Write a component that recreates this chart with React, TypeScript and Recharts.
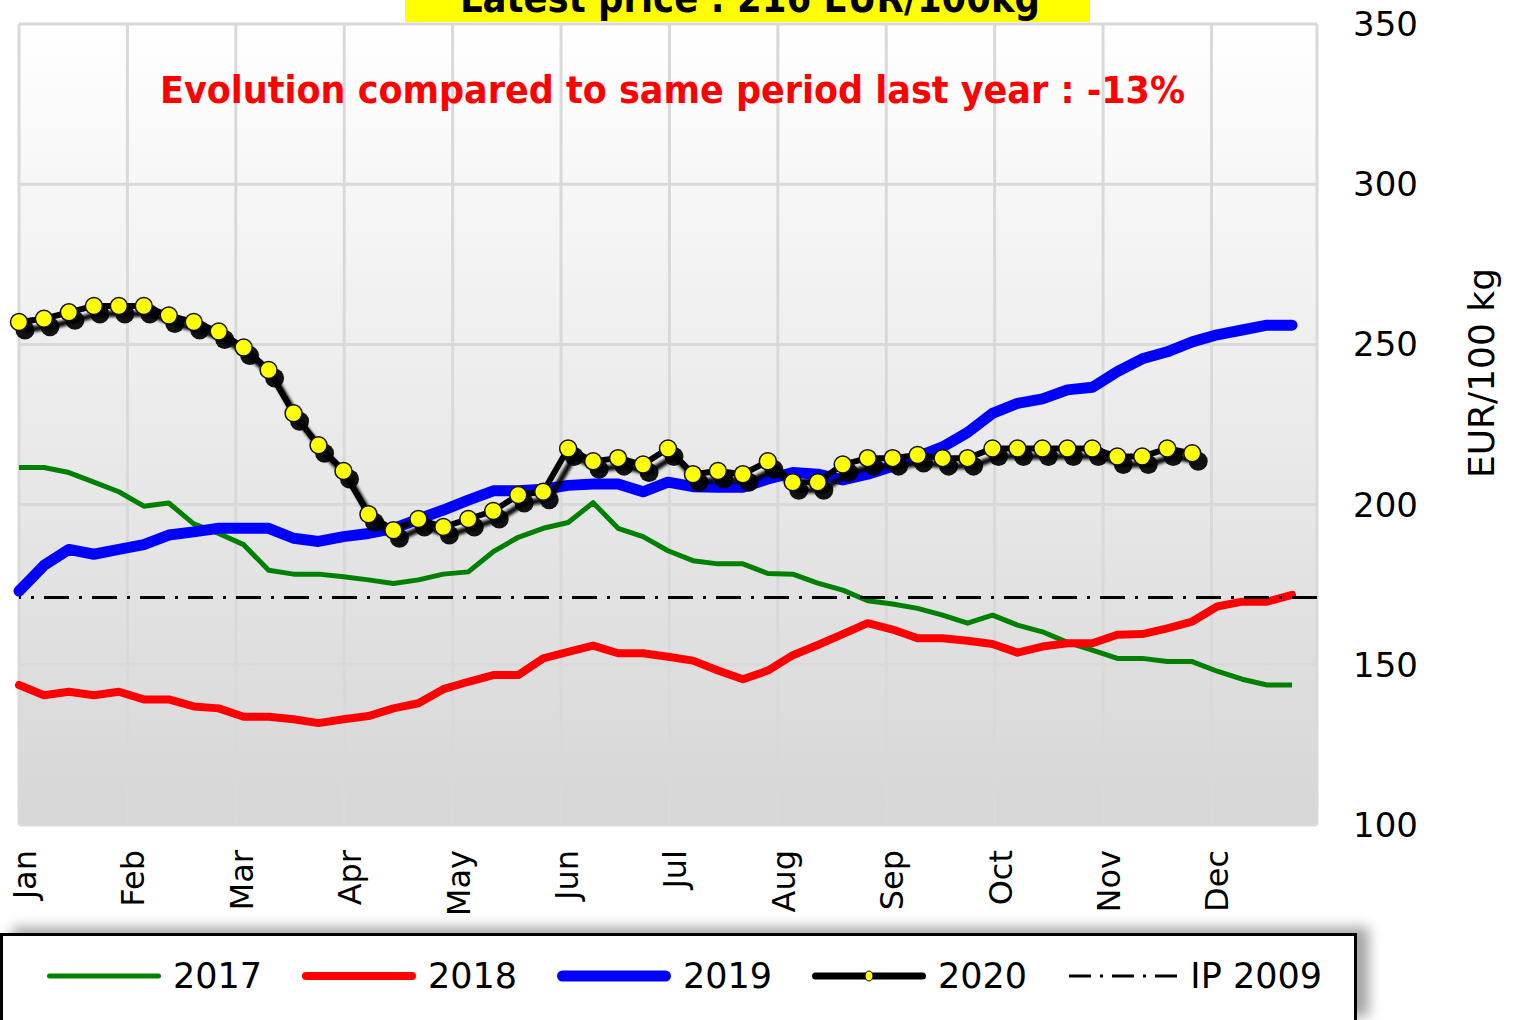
import { LineChart, Line, XAxis, YAxis, CartesianGrid, ReferenceLine } from 'recharts';

const MONTHS = ['Jan', 'Feb', 'Mar', 'Apr', 'May', 'Jun', 'Jul', 'Aug', 'Sep', 'Oct', 'Nov', 'Dec'];
const WEEKS_PER_MONTH = 4.343;
const Y_TICKS = [100, 150, 200, 250, 300, 350];

// weekly prices, EUR/100 kg
const PRICES_2017 = [
    211.6, 211.6, 210, 207, 204, 199.5, 200.5, 194, 191, 187.5, 179.5, 178.3, 178.3, 177.5, 176.5, 175.4, 176.5, 178.3,
    179, 185.3, 189.8, 192.6, 194.4, 200.6, 192.6, 190, 185.6, 182.5, 181.5, 181.5, 178.5, 178.3, 175.5, 173.3, 170, 169,
    167.6, 165.5, 163, 165.5, 162.4, 160.3, 157, 154.6, 152, 152, 151, 151, 148, 145.5, 143.7, 143.7,
];
const PRICES_2018 = [
    143.7, 140.5, 141.6, 140.5, 141.6, 139.2, 139.2, 137, 136.4, 133.8, 133.8, 133, 131.8, 133, 134, 136.4, 138, 142.4,
    144.7, 146.8, 146.8, 152, 154, 156, 153.6, 153.6, 152.5, 151.3, 148.2, 145.5, 148.2, 153, 156.2, 159.6, 163, 161,
    158.3, 158.3, 157.5, 156.5, 153.8, 155.7, 156.7, 156.7, 159.4, 159.6, 161.4, 163.5, 168.2, 169.7, 169.7, 171.8,
];
const PRICES_2019 = [
    173, 181, 186, 184.5, 186, 187.5, 190.5, 191.5, 192.6, 192.6, 192.6, 189.5, 188.5, 190, 191, 192.5, 195.5, 198.3,
    201.4, 204.3, 204.3, 204.8, 206, 206.4, 206.4, 204, 207, 205.6, 205.4, 205.4, 208, 210, 209.5, 207.7, 209.5, 212,
    215, 218, 222.5, 228.5, 231.6, 233, 235.8, 236.6, 241.5, 245.5, 247.7, 250.8, 253, 254.5, 256, 256,
];
const PRICES_2020 = [
    257, 258, 260, 262, 262, 262, 259, 257, 254, 249, 242, 228.5, 218.5, 210.5, 197, 192, 195.5, 193, 195.5, 198, 203,
    204, 217.5, 213.5, 214.5, 212.5, 217.5, 209.5, 210.5, 209.5, 213.5, 207, 207, 212.5, 214.5, 214.5, 215.5, 214.5,
    214.5, 217.5, 217.5, 217.5, 217.5, 217.5, 215, 215, 217.5, 216,
];
const IP_2009 = 171;

const SERIES = [
    { key: 'y2017', name: '2017', color: '#008000', width: 5 },
    { key: 'y2018', name: '2018', color: '#ff0000', width: 8 },
    { key: 'y2019', name: '2019', color: '#0000ff', width: 11 },
    { key: 'y2020', name: '2020', color: '#000000', width: 7 },
];

const data = PRICES_2017.map((v, i) => ({
    week: i,
    y2017: v,
    y2018: PRICES_2018[i],
    y2019: PRICES_2019[i],
    y2020: PRICES_2020[i],
}));

const monthTicks = MONTHS.map((_, i) => i * WEEKS_PER_MONTH);

const FONT = '"DejaVu Sans", Verdana, sans-serif';

function MonthTick({ x, y, payload }: any) {
    const label = MONTHS[Math.round(payload.value / WEEKS_PER_MONTH)];
    return (
        <text
            transform={`translate(${x + 17},${y + 25}) rotate(-90)`}
            textAnchor="end"
            fontSize={32}
            fontFamily={FONT}
            fill="#000"
        >
            {label}
        </text>
    );
}

// yellow marker with its own dark drop shadow
function YellowDot({ cx, cy }: any) {
    if (cx == null || cy == null) return null;
    return (
        <g>
            <circle cx={cx + 6} cy={cy + 8} r={9.5} fill="#000" opacity={0.92} />
            <circle cx={cx} cy={cy} r={8.5} fill="#ffff00" stroke="#111" strokeWidth={1.5} />
        </g>
    );
}

function LegendIcon({ name, color, width }: { name: string; color: string; width: number }) {
    if (name === 'IP 2009') {
        return (
            <svg width={114} height={20}>
                <line x1={2} y1={10} x2={112} y2={10} stroke="#000" strokeWidth={3} strokeDasharray="22 9 3 9" />
            </svg>
        );
    }
    return (
        <svg width={114} height={20}>
            <line x1={width / 2} y1={10} x2={114 - width / 2} y2={10} stroke={color} strokeWidth={width} strokeLinecap="round" />
            {name === '2020' && <ellipse cx={57} cy={10} rx={4} ry={5} fill="#ffff00" stroke="#000" strokeWidth={1} />}
        </svg>
    );
}

function ChartLegend() {
    const items = [...SERIES.map((s) => ({ name: s.name, color: s.color, width: s.width })), { name: 'IP 2009', color: '#000', width: 3 }];
    return (
        <div
            style={{
                position: 'absolute',
                left: 0,
                top: 933,
                width: 1357,
                height: 90,
                border: '3px solid #000',
                background: '#fff',
                boxShadow: '12px -6px 12px rgba(0,0,0,0.35)',
                display: 'flex',
                alignItems: 'center',
                paddingLeft: 44,
                paddingBottom: 4,
                boxSizing: 'border-box',
            }}
        >
            {items.map((it) => (
                <div key={it.name} style={{ width: 255, display: 'flex', alignItems: 'center', flexShrink: 0, whiteSpace: 'nowrap' }}>
                    <LegendIcon {...it} />
                    <span style={{ marginLeft: 12, fontFamily: FONT, fontSize: 35, color: '#000', lineHeight: 1 }}>{it.name}</span>
                </div>
            ))}
        </div>
    );
}

export default function App() {
    return (
        <div style={{ position: 'absolute', left: 0, top: 0, width: 1521, height: 1020, overflow: 'hidden', background: '#fff' }}>
            <style>{`.line2020 .recharts-line-curve { filter: url(#shadow2020); }`}</style>
            <svg width={0} height={0} style={{ position: 'absolute' }}>
                <defs>
                    <linearGradient id="plotBg" x1="0" y1="0" x2="0" y2="1">
                        <stop offset="0" stopColor="#ffffff" />
                        <stop offset="1" stopColor="#d6d6d6" />
                    </linearGradient>
                    <filter id="shadow2020" x="-5%" y="-10%" width="115%" height="130%">
                        <feDropShadow dx={6} dy={8} stdDeviation={1.5} floodColor="#000" floodOpacity={0.95} />
                    </filter>
                </defs>
            </svg>

            <div style={{ position: 'absolute', left: 0, top: 0 }}>
                <LineChart width={1521} height={920} data={data} margin={{ top: 24, right: 54, bottom: 0, left: 19 }}>
                    <CartesianGrid stroke="#d9d9d9" strokeWidth={3} fill="url(#plotBg)" fillOpacity={1} />
                    <XAxis
                        dataKey="week"
                        type="number"
                        domain={[0, 52]}
                        ticks={monthTicks}
                        interval={0}
                        axisLine={false}
                        tickLine={false}
                        tickSize={0}
                        tickMargin={0}
                        height={95}
                        tick={<MonthTick />}
                    />
                    <YAxis
                        orientation="right"
                        domain={[100, 350]}
                        ticks={Y_TICKS}
                        axisLine={false}
                        tickLine={false}
                        tickSize={0}
                        tickMargin={36}
                        width={150}
                        tick={{ fontSize: 34, fill: '#000', fontFamily: FONT }}
                    />
                    <Line dataKey="y2017" stroke="#008000" strokeWidth={5} dot={false} strokeLinejoin="round" isAnimationActive={false} />
                    <Line dataKey="y2018" stroke="#ff0000" strokeWidth={8} dot={false} strokeLinejoin="round" strokeLinecap="round" isAnimationActive={false} />
                    <ReferenceLine y={IP_2009} stroke="#000" strokeWidth={3} strokeDasharray="25 10 3 10" />
                    <Line dataKey="y2019" stroke="#0000ff" strokeWidth={11} dot={false} strokeLinejoin="round" strokeLinecap="round" isAnimationActive={false} />
                    <Line
                        className="line2020"
                        dataKey="y2020"
                        stroke="#000"
                        strokeWidth={6}
                        strokeLinejoin="round"
                        dot={(p: any) => <YellowDot key={`d${p.index}`} {...p} />}
                        activeDot={false}
                        isAnimationActive={false}
                    />
                </LineChart>
            </div>

            <svg width={1521} height={920} style={{ position: 'absolute', left: 0, top: 0, pointerEvents: 'none' }}>
                <rect x={405} y={-40} width={685} height={62} fill="#ffff00" />
                <text x={460} y={12} fontFamily={FONT} fontWeight="bold" fontSize={40} fill="#000" textLength={580} lengthAdjust="spacingAndGlyphs">
                    Latest price : 216 EUR/100kg
                </text>
                <text x={160} y={103} fontFamily={FONT} fontWeight="bold" fontSize={37} fill="#ff0000" textLength={1025} lengthAdjust="spacingAndGlyphs">
                    Evolution compared to same period last year : -13%
                </text>
                <text transform="translate(1494,373) rotate(-90)" textAnchor="middle" fontFamily={FONT} fontSize={36} fill="#000">
                    EUR/100 kg
                </text>
            </svg>

            <ChartLegend />
        </div>
    );
}
